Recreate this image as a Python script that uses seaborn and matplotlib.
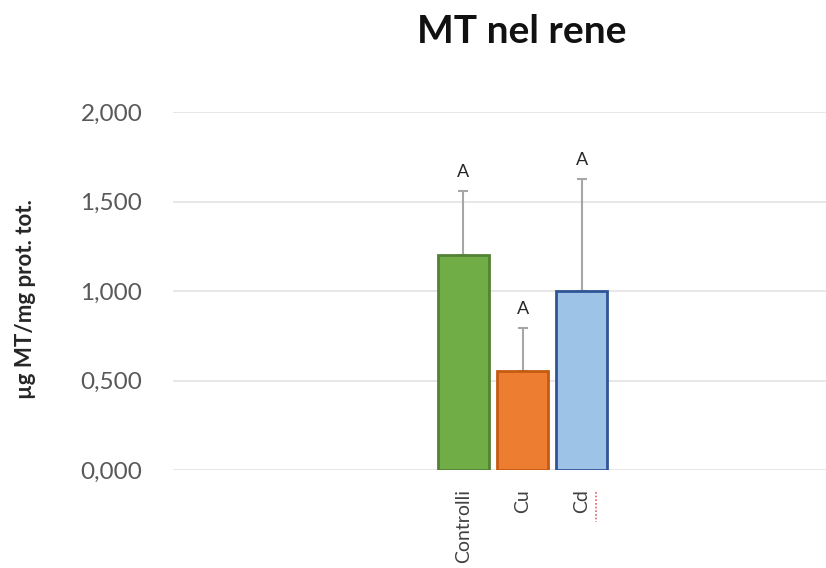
import matplotlib
matplotlib.use("Agg")
import matplotlib.pyplot as plt
import matplotlib.ticker as mticker
from matplotlib.lines import Line2D
import seaborn as sns
import pandas as pd

# Metallothionein content in kidney, by treatment group
groups = ["Controlli", "Cu", "Cd"]
mean_mt = [1.20, 0.555, 1.00]
err_mt = [0.36, 0.24, 0.625]
letters = ["A", "A", "A"]

fill_colors = ["#70AD47", "#ED7D31", "#9DC3E6"]
edge_colors = ["#548235", "#C55A11", "#2F5597"]

sns.set_theme(style="white")
plt.rcParams["font.family"] = ["Lato", "DejaVu Sans"]

df = pd.DataFrame({"group": groups, "mt": mean_mt})

fig = plt.figure(figsize=(8.26, 5.68), dpi=100)
ax = fig.add_axes([0.2094, 0.1725, 0.7906, 0.6303])

sns.barplot(data=df, x="group", y="mt", hue="group", palette=fill_colors,
            order=groups, width=0.86, errorbar=None, legend=False,
            saturation=1, ax=ax, zorder=3)
for patch, ec in zip(ax.patches, edge_colors):
    patch.set_edgecolor(ec)
    patch.set_linewidth(2)

# upper error bars only
ax.errorbar(range(len(groups)), mean_mt, yerr=[[0] * len(groups), err_mt],
            fmt="none", ecolor="#A6A6A6", elinewidth=1.5, capsize=3.5,
            capthick=1.5, zorder=2)

for i, (m, e, t) in enumerate(zip(mean_mt, err_mt, letters)):
    ax.text(i, m + e + 0.06, t, ha="center", va="bottom", fontsize=13,
            color="#262626")

ax.set_ylim(0, 2.0)
ax.set_xlim(-4.90, 6.12)
ax.yaxis.set_major_locator(mticker.MultipleLocator(0.5))
ax.yaxis.set_major_formatter(
    mticker.FuncFormatter(lambda v, _: f"{v:.3f}".replace(".", ",")))
ax.grid(axis="y", color="#E3E3E3", linewidth=1.2, zorder=0)
ax.set_axisbelow(True)
for s in ax.spines.values():
    s.set_visible(False)

ax.tick_params(axis="y", labelsize=17.5, labelcolor="#595959", length=0, pad=22)
ax.tick_params(axis="x", labelsize=14, labelcolor="#404040", length=0,
               labelrotation=90, pad=14)
ax.set_xlabel("")
ax.set_ylabel("µg MT/mg prot. tot.", fontsize=16, fontweight="bold",
              color="#262626")
ax.yaxis.set_label_coords(-0.209, 0.478)

# spell-check underline beside the "Cd" label
fig.add_artist(Line2D([0.7215, 0.7215], [0.134, 0.081], color="#E06666",
                      linewidth=1.2, linestyle=(0, (1, 1.2))))

fig.text(0.632, 0.945, "MT nel rene", ha="center", va="center",
         fontsize=28, fontweight="bold", color="#111111")

fig.savefig("out.png", dpi=100, facecolor="white")
